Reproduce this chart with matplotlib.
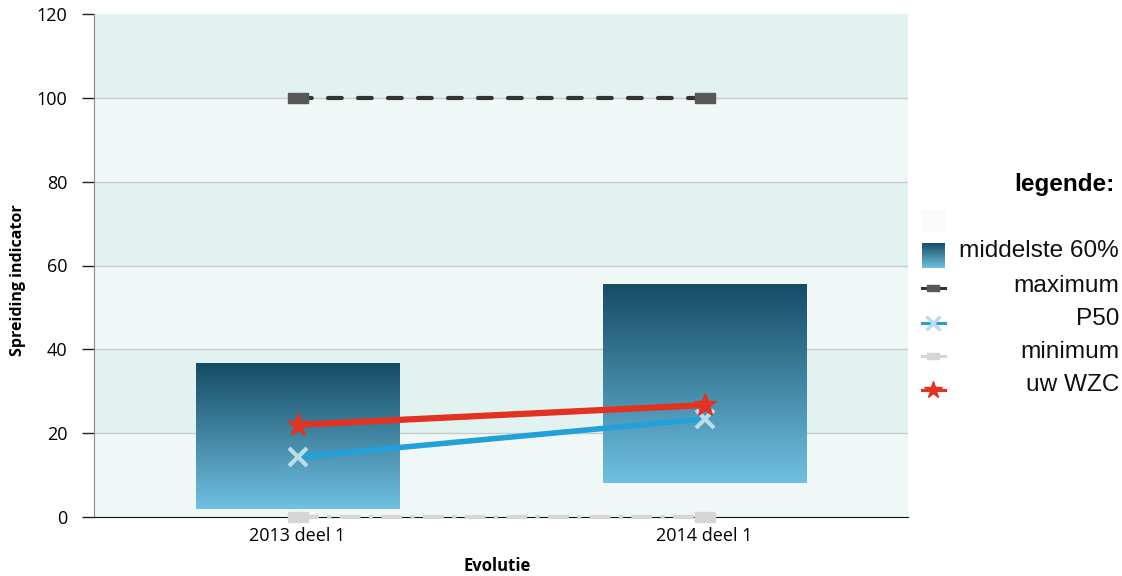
import numpy as np
import matplotlib
matplotlib.use("Agg")
import matplotlib.pyplot as plt
from matplotlib.patches import Rectangle
from matplotlib.colors import LinearSegmentedColormap

categories = ["2013 deel 1", "2014 deel 1"]
band_low = [1.9, 8.1]
band_high = [36.5, 55.4]
maximum = [100, 100]
p50 = [14.3, 23.4]
minimum = [0, 0]
uw_wzc = [22.0, 26.7]
yticks = [0, 20, 40, 60, 80, 100, 120]
legend_labels = ["middelste 60%", "maximum", "P50", "minimum", "uw WZC"]

W, H = 1122, 576
fig = plt.figure(figsize=(W/100, H/100), dpi=100)
ax = fig.add_axes([94/W, 1-517/H, (908-94)/W, (517-14)/H])

ax.set_xlim(-0.5, len(categories)-0.5)
ax.set_ylim(0, 120)

# background bands
for i, y0 in enumerate(range(0, 120, 20)):
    col = "#f0f8f7" if i % 2 == 0 else "#e2f2f1"
    ax.axhspan(y0, y0+20, color=col, zorder=0, lw=0)
for y in yticks[1:-1]:
    ax.axhline(y, color="#c8cccb", lw=1, zorder=1)

cmap = LinearSegmentedColormap.from_list("g", ["#6fc0e2", "#164c65"])
grad = np.linspace(0, 1, 256).reshape(-1, 1)
xs = np.arange(len(categories))
bw = 0.5
for x, lo, hi in zip(xs, band_low, band_high):
    im = ax.imshow(grad, extent=[x-bw/2, x+bw/2, lo, hi], origin="lower",
                   cmap=cmap, aspect="auto", zorder=2)
ax.set_xlim(-0.5, len(categories)-0.5)
ax.set_ylim(0, 120)

rect_marker = [(-1, -0.5), (1, -0.5), (1, 0.5), (-1, 0.5), (-1, -0.5)]

ax.plot(xs, minimum, color="#d6d6d6", lw=3, dashes=(5, 2, 1, 2), marker=rect_marker,
        ms=15, mfc="#d6d6d6", mec="#d6d6d6", zorder=3, clip_on=False)
ax.plot(xs, maximum, color="#333333", lw=3, dashes=(3.3, 3.9), dash_capstyle="round",
        marker=rect_marker, ms=15, mfc="#585858", mec="#585858", zorder=3)
ax.plot(xs, p50, color="#22a0d8", lw=4, zorder=4)
ax.plot(xs, p50, ls="none", marker="x", ms=13, mew=3, color="#bcdcea", zorder=5)
ax.plot(xs, uw_wzc, color="#e23222", lw=4.5, marker="*", ms=17, mfc="#e23222",
        mec="#e23222", zorder=6)

ax.set_xticks(xs)
ax.set_xticklabels(categories, fontsize=13, family="Open Sans")
ax.tick_params(axis="x", length=0, pad=7)
ax.set_yticks(yticks)
ax.set_yticklabels([str(t) for t in yticks], fontsize=13, family="Open Sans")
ax.tick_params(axis="y", length=9, width=1, color="#222222", pad=10)
for s in ["top", "right"]:
    ax.spines[s].set_visible(False)
ax.spines["left"].set_color("#888888")
ax.spines["bottom"].set_color("#111111")
ax.set_xlabel("Evolutie", fontsize=12, fontweight="bold", family="Open Sans")
ax.xaxis.set_label_coords((497-94)/814, -(557-517)/503)
ax.set_ylabel("Spreiding indicator", fontsize=11.5, fontweight="bold", family="Open Sans")
ax.yaxis.set_label_coords((26-94)/814, (517-280)/503)

# legend (manual)
def fx(px): return px / W
def fy(py): return 1 - py / H

fig.text(fx(1115), fy(185), "legende:", ha="right", va="center", fontsize=17.5,
         fontweight="bold", family="Liberation Sans")
lax = fig.add_axes([0, 0, 1, 1], facecolor="none")
lax.set_xlim(0, W); lax.set_ylim(H, 0); lax.axis("off")
lax.add_patch(Rectangle((922, 210), 23, 22, color="#f9fafa", lw=0))
lax.imshow(grad[::-1], extent=[922, 945, 268, 243], cmap=cmap, aspect="auto")
lax.set_xlim(0, W); lax.set_ylim(H, 0)
text_ys = [251, 286, 319, 352, 385]
for lab, y in zip(legend_labels, text_ys):
    fig.text(fx(1119), fy(y), lab, ha="right", va="center", fontsize=17.6,
             family="Liberation Sans", color="#111111")
my = [288, 323, 356, 390]
lax.plot([922, 945], [my[0], my[0]], color="#333333", lw=2.2)
lax.plot([933.5], [my[0]], marker=rect_marker, ms=9, color="#585858")
lax.plot([922, 945], [my[1], my[1]], color="#22a0d8", lw=2.2)
lax.plot([933.5], [my[1]], marker="x", ms=10, mew=2.5, color="#bcdcea")
lax.plot([922, 945], [my[2], my[2]], color="#d6d6d6", lw=2.2)
lax.plot([933.5], [my[2]], marker=rect_marker, ms=9, color="#d6d6d6")
lax.plot([922, 945], [my[3], my[3]], color="#e23222", lw=2.2)
lax.plot([933.5], [my[3]], marker="*", ms=13, color="#e23222")

fig.savefig("out.png", dpi=100)
